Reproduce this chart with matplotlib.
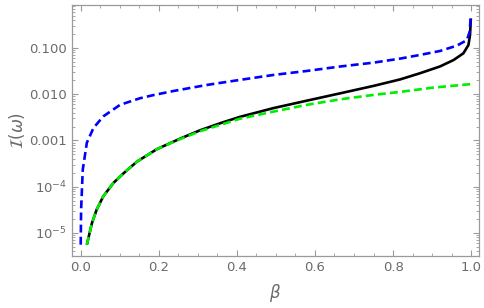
import numpy as np
import matplotlib
matplotlib.use("Agg")
import matplotlib.pyplot as plt
from matplotlib.ticker import LogLocator, FixedLocator, NullFormatter

# values (beta, log10 I)
beta_blue = [0.0003, 0.0013, 0.0056, 0.016, 0.033, 0.058, 0.101, 0.152, 0.186,
             0.238, 0.323, 0.408, 0.494, 0.579, 0.665, 0.75, 0.818, 0.869,
             0.92, 0.963, 0.989, 0.996, 0.9985]
log_blue = [-5.255, -4.50, -3.63, -3.05, -2.73, -2.48, -2.23, -2.087, -2.02,
            -1.93, -1.80, -1.69, -1.583, -1.497, -1.40, -1.317, -1.23, -1.15,
            -1.065, -0.95, -0.83, -0.65, -0.36]

beta_green = [0.016, 0.029, 0.041, 0.058, 0.084, 0.110, 0.144, 0.195, 0.255,
              0.306, 0.408, 0.494, 0.579, 0.665, 0.75, 0.818, 0.90, 1.0]
log_green = [-5.255, -4.79, -4.50, -4.21, -3.92, -3.71, -3.46, -3.19, -2.97,
             -2.80, -2.53, -2.376, -2.23, -2.11, -2.015, -1.95, -1.86, -1.78]

beta_black = [0.016, 0.029, 0.041, 0.058, 0.084, 0.110, 0.144, 0.195, 0.255,
              0.306, 0.360, 0.408, 0.494, 0.579, 0.665, 0.75, 0.818, 0.869,
              0.92, 0.955, 0.98, 0.993, 0.997, 0.9985, 0.9992]
log_black = [-5.255, -4.79, -4.50, -4.21, -3.92, -3.71, -3.46, -3.19, -2.96,
             -2.78, -2.62, -2.49, -2.30, -2.14, -1.98, -1.82, -1.68, -1.546,
             -1.40, -1.26, -1.115, -0.935, -0.72, -0.47, -0.36]

ytick_vals = [1e-5, 1e-4, 1e-3, 1e-2, 1e-1]
ytick_labels = ["$10^{-5}$", "$10^{-4}$", "0.001", "0.010", "0.100"]
xtick_vals = [0.0, 0.2, 0.4, 0.6, 0.8, 1.0]
xtick_labels = ["0.0", "0.2", "0.4", "0.6", "0.8", "1.0"]

gray = "#6b6b6b"
frame = "#9a9a9a"

fig = plt.figure(figsize=(4.85, 3.08), dpi=100)
ax = fig.add_axes([72 / 485, 52 / 308, 407 / 485, 251 / 308])

ax.plot(beta_black, 10 ** np.array(log_black), color="black", lw=1.9,
        solid_capstyle="butt", solid_joinstyle="round", zorder=2)
ax.plot(beta_green, 10 ** np.array(log_green), color="#00ee00", lw=1.9,
        dashes=(3, 1.6), zorder=3)
ax.plot(beta_blue, 10 ** np.array(log_blue), color="#0000ff", lw=1.9,
        dashes=(3, 1.6), zorder=4)

ax.set_yscale("log")
ax.set_xlim(-0.022, 1.02)
ax.set_ylim(10 ** -5.5, 10 ** -0.07)

ax.yaxis.set_major_locator(FixedLocator(ytick_vals))
ax.set_yticklabels(ytick_labels)
ax.yaxis.set_minor_locator(LogLocator(base=10, subs=np.arange(2, 10), numticks=20))
ax.yaxis.set_minor_formatter(NullFormatter())
ax.set_xticks(xtick_vals)
ax.set_xticklabels(xtick_labels)
ax.set_xticks(np.arange(0, 1.01, 0.05), minor=True)

for s in ax.spines.values():
    s.set_color(frame)
    s.set_linewidth(0.9)
ax.tick_params(which="both", direction="in", top=True, right=True,
               color=frame, labelcolor=gray, labelsize=9.5)
ax.tick_params(which="major", length=4, width=0.8)
ax.tick_params(which="minor", length=2, width=0.6)

ax.set_xlabel(r"$\beta$", fontsize=12, color=gray, labelpad=6)
ax.set_ylabel(r"$\mathcal{I}(\omega)$", fontsize=12, color=gray, labelpad=2)

fig.savefig("out.png", dpi=100)
